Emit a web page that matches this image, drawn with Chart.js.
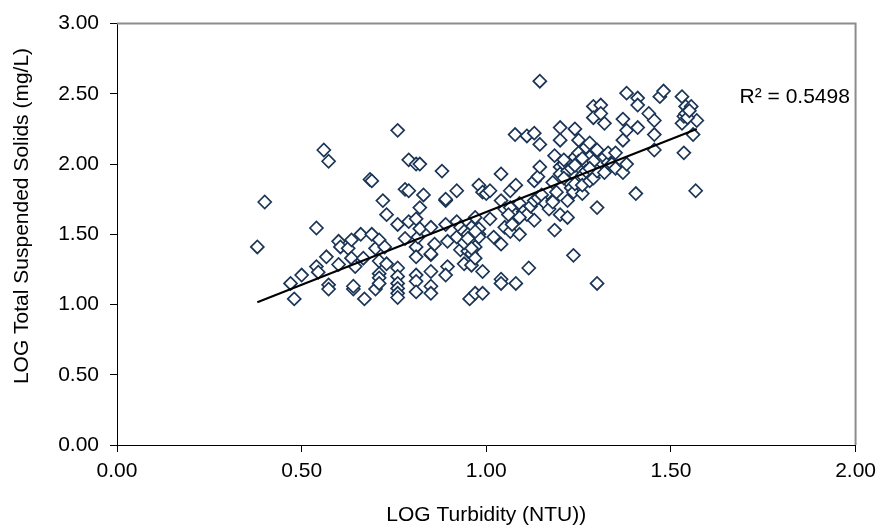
<!DOCTYPE html>
<html>
<head>
<meta charset="utf-8">
<script src="https://cdn.jsdelivr.net/npm/chart.js@4"></script>
<style>
  html, body { margin: 0; padding: 0; background: #fff; }
  #wrap { width: 883px; height: 529px; }
</style>
</head>
<body>
<div id="wrap"><canvas id="tssChart"></canvas></div>
<script>
// LOG turbidity (x) vs LOG TSS (y)
const logTurbidity = [
  0.38, 0.40, 0.47, 0.48, 0.50, 0.54, 0.54, 0.545, 0.56, 0.567, 0.573, 0.573, 0.573,
  0.60, 0.605, 0.60, 0.626, 0.635, 0.635, 0.64, 0.64, 0.645, 0.66, 0.667, 0.67,
  0.685, 0.69, 0.69, 0.70, 0.70, 0.71, 0.71, 0.71, 0.71, 0.71, 0.72, 0.725, 0.73, 0.73,
  0.76, 0.76, 0.76, 0.76, 0.76, 0.76, 0.76, 0.76, 0.78, 0.78, 0.79, 0.79, 0.79,
  0.81, 0.81, 0.81, 0.81, 0.81, 0.81, 0.81, 0.815, 0.82, 0.82, 0.82, 0.83,
  0.85, 0.85, 0.85, 0.85, 0.85, 0.85, 0.86, 0.88, 0.89, 0.89, 0.89, 0.895, 0.895, 0.89,
  0.92, 0.92, 0.92, 0.93, 0.94, 0.955, 0.96, 0.96, 0.96, 0.97, 0.93, 0.94, 0.95, 0.95,
  0.95, 0.96, 0.97, 0.97, 0.98, 0.98, 0.98, 0.98, 0.97, 0.99, 0.99, 0.99, 1.00, 1.01,
  1.01, 1.02, 1.04, 1.04, 1.04, 1.04, 1.04, 1.05, 1.05, 1.065, 1.065, 1.065, 1.07,
  1.078, 1.08, 1.08, 1.08, 1.09, 1.09, 1.10, 1.11, 1.11, 1.115, 1.12, 1.13, 1.13, 1.13,
  1.13, 1.14, 1.14, 1.145, 1.145, 1.145, 1.15, 1.16, 1.17, 1.18, 1.18, 1.18, 1.185,
  1.185, 1.19, 1.20, 1.20, 1.20, 1.20, 1.20, 1.21, 1.22, 1.22, 1.22, 1.22, 1.23, 1.23,
  1.236, 1.236, 1.24, 1.24, 1.24, 1.25, 1.25, 1.25, 1.26, 1.26, 1.26, 1.27, 1.27,
  1.28, 1.28, 1.28, 1.29, 1.29, 1.29, 1.29, 1.30, 1.30, 1.30, 1.30, 1.31, 1.31,
  1.32, 1.32, 1.32, 1.33, 1.33, 1.34, 1.35, 1.35, 1.37, 1.37, 1.37, 1.38, 1.38, 1.38,
  1.405, 1.41, 1.41, 1.41, 1.44, 1.455, 1.455, 1.455, 1.47, 1.48, 1.53, 1.53, 1.535,
  1.535, 1.54, 1.555, 1.56, 1.567, 1.57, 1.54, 1.545, 1.55,
  0.94, 0.95, 0.96, 0.97, 1.21, 1.23, 1.25, 1.27, 1.21, 1.26, 1.24, 1.28, 1.06, 1.09
];
const logTSS = [
  1.41, 1.73, 1.15, 1.04, 1.21, 1.545, 1.27, 1.23, 2.10, 1.34, 2.02, 1.14, 1.11,
  1.45, 1.41, 1.285, 1.40, 1.46, 1.33, 1.11, 1.13, 1.27, 1.50, 1.33, 1.04,
  1.89, 1.88, 1.50, 1.40, 1.11, 1.46, 1.31, 1.22, 1.19, 1.15, 1.74, 1.41, 1.64, 1.29,
  2.24, 1.57, 1.26, 1.20, 1.15, 1.115, 1.08, 1.05, 1.47, 1.82, 2.03, 1.81, 1.59,
  2.00, 1.61, 1.41, 1.34, 1.21, 1.165, 1.09, 1.48, 2.00, 1.69, 1.54, 1.78,
  1.55, 1.355, 1.36, 1.235, 1.13, 1.08, 1.43, 1.95, 1.74, 1.75, 1.57, 1.45, 1.27, 1.21,
  1.81, 1.59, 1.48, 1.39, 1.29, 1.04, 1.28, 1.46, 1.55, 1.08, 1.55, 1.52, 1.50, 1.42,
  1.38, 1.36, 1.41, 1.33, 1.50, 1.54, 1.48, 1.85, 1.62, 1.235, 1.08, 1.80, 1.79, 1.61,
  1.81, 1.48, 1.93, 1.74, 1.43, 1.18, 1.15, 1.55, 1.68, 1.81, 1.69, 1.52, 1.57,
  2.21, 1.85, 1.64, 1.15, 1.50, 1.72, 1.66, 2.20, 1.64, 1.26, 1.70, 2.22, 1.88, 1.60,
  1.74, 1.91, 1.76, 2.59, 2.14, 1.98, 1.78, 1.72, 1.68, 1.87, 1.74, 1.73, 2.06,
  1.53, 1.80, 2.26, 2.17, 1.98, 1.93, 1.64, 2.00, 1.95, 1.88, 1.74, 1.62, 2.02, 1.83,
  1.80, 1.35, 2.25, 2.05, 1.86, 2.17, 1.98, 2.08, 1.92, 1.79, 1.85, 2.00, 2.12,
  2.15, 2.05, 1.88, 2.41, 2.33, 2.02, 1.90, 2.10, 1.95, 1.69, 1.15, 2.42, 2.36,
  2.29, 1.94, 2.05, 2.01, 2.08, 2.00, 2.08, 1.97, 2.32, 2.17, 1.94, 2.505, 2.24, 2.00,
  1.79, 2.47, 2.42, 2.26, 2.36, 2.31, 2.21, 2.10, 2.48, 2.52, 2.48, 2.29, 2.34,
  2.08, 2.41, 2.41, 2.21, 1.81, 2.31, 2.36, 2.33, 2.38,
  1.44, 1.47, 1.40, 1.52, 2.03, 1.97, 2.02, 1.95, 1.90, 2.04, 1.99, 1.97, 1.64, 1.62
];
// linear trendline end points as drawn
const trendX = [0.38, 1.57];
const trendY = [1.016, 2.25];
const rSquared = 'R² = 0.5498';
const yTitle = 'LOG Total Suspended Solids (mg/L)';
const xTitle = 'LOG Turbidity (NTU))';

const xTicks = [0, 0.5, 1, 1.5, 2];
const yTicks = [0, 0.5, 1, 1.5, 2, 2.5, 3];

const FONT = "'Liberation Sans', Arial, sans-serif";

const points = logTurbidity.map((x, i) => ({ x: x, y: logTSS[i] }));
const trend = trendX.map((x, i) => ({ x: x, y: trendY[i] }));

// grey frame on top/right, R² text and the y title
const framePlugin = {
  id: 'frame',
  beforeDatasetsDraw(chart) {
    const { ctx, chartArea: a } = chart;
    ctx.save();
    ctx.strokeStyle = '#8c8c8c';
    ctx.lineWidth = 2;
    ctx.beginPath();
    ctx.moveTo(a.left, a.top);
    ctx.lineTo(a.right, a.top);
    ctx.lineTo(a.right, a.bottom);
    ctx.stroke();
    ctx.restore();
  },
  afterDatasetsDraw(chart) {
    const { ctx, chartArea: a } = chart;
    ctx.save();
    ctx.fillStyle = '#000';
    ctx.font = '21px ' + FONT;
    ctx.textAlign = 'left';
    ctx.textBaseline = 'alphabetic';
    ctx.fillText(rSquared, a.right - 116, 103);

    ctx.translate(28, 216);
    ctx.rotate(-Math.PI / 2);
    ctx.textAlign = 'center';
    ctx.fillText(yTitle, 0, 0);
    ctx.restore();
  }
};

new Chart(document.getElementById('tssChart'), {
  type: 'scatter',
  data: {
    datasets: [
      {
        type: 'line',
        data: trend,
        borderColor: '#000',
        borderWidth: 2,
        pointRadius: 0,
        fill: false,
        order: 0
      },
      {
        data: points,
        pointStyle: 'rectRot',
        pointRadius: 6.5,
        pointBorderWidth: 1.7,
        borderColor: '#1b3556',
        backgroundColor: '#fff',
        pointHoverRadius: 6.5,
        order: 1
      }
    ]
  },
  options: {
    responsive: true,
    maintainAspectRatio: false,
    animation: false,
    layout: { padding: { top: 20, right: 22, left: 0, bottom: 0 } },
    plugins: {
      legend: { display: false },
      tooltip: { enabled: false }
    },
    scales: {
      x: {
        type: 'linear',
        min: 0,
        max: 2,
        afterBuildTicks: (s) => { s.ticks = xTicks.map(v => ({ value: v })); },
        afterFit: (s) => { s.height = 84; },
        border: { display: true, color: '#000', width: 1 },
        grid: { drawOnChartArea: false, drawTicks: true, tickLength: 7, color: '#000' },
        ticks: {
          color: '#000',
          font: { family: FONT, size: 21 },
          padding: 7,
          maxRotation: 0,
          callback: (v) => Number(v).toFixed(2)
        },
        title: {
          display: true,
          text: xTitle,
          color: '#000',
          font: { family: FONT, size: 21 },
          padding: { top: 0, bottom: 1 }
        }
      },
      y: {
        type: 'linear',
        min: 0,
        max: 3,
        afterBuildTicks: (s) => { s.ticks = yTicks.map(v => ({ value: v })); },
        afterFit: (s) => { s.width = 117; },
        border: { display: true, color: '#000', width: 1 },
        grid: { drawOnChartArea: false, drawTicks: true, tickLength: 7, color: '#000' },
        ticks: {
          color: '#000',
          font: { family: FONT, size: 21 },
          padding: 11,
          callback: (v) => Number(v).toFixed(2)
        },
        title: { display: false }
      }
    }
  },
  plugins: [framePlugin]
});
</script>
</body>
</html>
